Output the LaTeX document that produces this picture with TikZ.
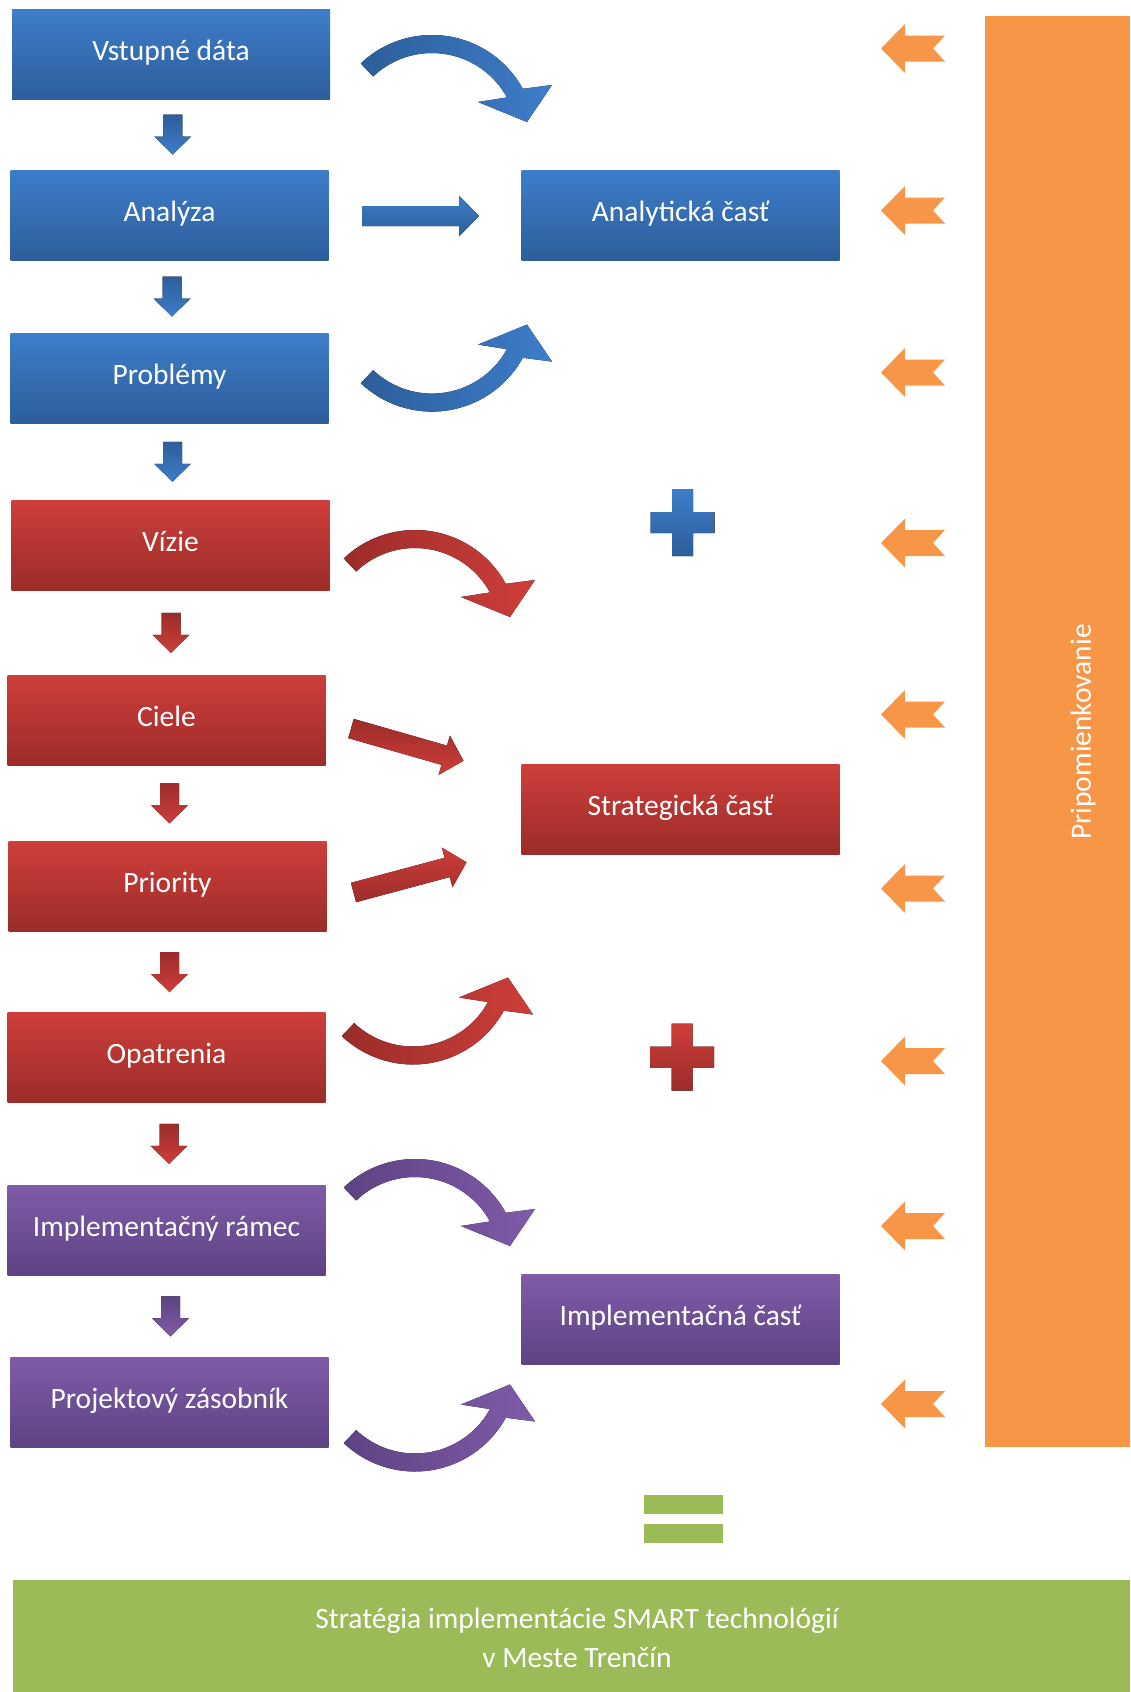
\documentclass[tikz,border=0pt]{standalone}
\usepackage{fontspec}
\setmainfont{Carlito}
\usetikzlibrary{calc}
\definecolor{blueTop}{RGB}{61,125,202}
\definecolor{blueBot}{RGB}{45,94,154}
\definecolor{redTop}{RGB}{206,62,58}
\definecolor{redBot}{RGB}{155,44,41}
\definecolor{violetTop}{RGB}{127,91,168}
\definecolor{violetBot}{RGB}{93,67,131}
\definecolor{pumpkin}{RGB}{247,150,70}
\definecolor{grass}{RGB}{155,187,89}

% small arrow between two boxes
\newcommand{\stepdown}[3]{%
  \fill[#3, shift={($(#1.south)!.5!(#2.north)+(2.5,0)$)}]
    (-9.5,-20) -- (9.5,-20) -- (9.5,2) -- (18.5,2) -- (0,20) -- (-18.5,2) -- (-9.5,2) -- cycle;}
% bent block arrow
\newcommand{\bendarrow}[1]{%
  \fill[#1] (-133.5:103.5) arc[start angle=-133.5, end angle=-28.7, radius=103.5]
    -- (120,-53.5) -- (95,-16.5) -- (46,-36.5) -- (-28.7:85.5)
    arc[start angle=-28.7, end angle=-133.5, radius=85.5] -- cycle;}
% straight block arrow
\newcommand{\pusharrow}[1]{%
  \fill[#1] (0,-10) -- (97,-10) -- (97,-20.5) -- (117,0) -- (97,20.5) -- (97,10) -- (0,10) -- cycle;}
% orange arrow from the side bar
\newcommand{\backarrow}[1]{%
  \fill[pumpkin, shift={(881,#1)}] (0,0) -- (24,-24.5) -- (24,-13) -- (64,-13) -- (52,0)
    -- (64,13) -- (24,13) -- (24,24.5) -- cycle;}
% plus sign
\newcommand{\plussign}[1]{%
  \fill[#1] (-10.5,-33.5) -- (10.5,-33.5) -- (10.5,-10.5) -- (32,-10.5) -- (32,10.5)
    -- (10.5,10.5) -- (10.5,33.5) -- (-10.5,33.5) -- (-10.5,10.5) -- (-32,10.5)
    -- (-32,-10.5) -- (-10.5,-10.5) -- cycle;}

\tikzset{
  box/.style={rectangle, minimum width=318pt, minimum height=90pt, inner sep=0pt,
    text height=20pt, text depth=8pt, text=white, font=\fontsize{29.5}{35}\selectfont},
  bluebox/.style={box, top color=blueTop, bottom color=blueBot},
  redbox/.style={box, top color=redTop, bottom color=redBot},
  violetbox/.style={box, top color=violetTop, bottom color=violetBot},
  bartext/.style={text=white, align=center, font=\fontsize{29.5}{39}\selectfont},
}

\begin{document}
\begin{tikzpicture}[x=1pt,y=-1pt]
	\useasboundingbox (0,0) rectangle (1130,1692);
	
	% draw steps
	\node[bluebox] (vstup) at (171,54) {Vstupné dáta};
	\node[bluebox] (analyza) at (169.5,215) {Analýza};
	\node[bluebox] (problemy) at (169.5,378) {Problémy};
	\node[redbox] (vizie) at (170.5,545.5) {Vízie};
	\node[redbox] (ciele) at (166.5,720) {Ciele};
	\node[redbox] (priority) at (167.5,886.5) {Priority};
	\node[redbox] (opatrenia) at (166.5,1057.5) {Opatrenia};
	\node[violetbox] (ramec) at (166.5,1230) {Implementačný rámec};
	\node[violetbox] (zasobnik) at (169.5,1402.5) {Projektový zásobník};
	
	% draw parts
	\node[bluebox] (analyticka) at (680.5,215) {Analytická časť};
	\node[redbox] (strategicka) at (680.5,809.5) {Strategická časť};
	\node[violetbox] (implementacna) at (680.5,1319) {Implementačná časť};
	
	% draw arrows between steps
	\stepdown{vstup}{analyza}{top color=blueBot, bottom color=blueTop}
	\stepdown{analyza}{problemy}{top color=blueBot, bottom color=blueTop}
	\stepdown{problemy}{vizie}{top color=blueBot, bottom color=blueTop}
	\stepdown{vizie}{ciele}{top color=redBot, bottom color=redTop}
	\stepdown{ciele}{priority}{top color=redBot, bottom color=redTop}
	\stepdown{priority}{opatrenia}{top color=redBot, bottom color=redTop}
	\stepdown{opatrenia}{ramec}{top color=redBot, bottom color=redTop}
	\stepdown{ramec}{zasobnik}{top color=violetBot, bottom color=violetTop}
	
	% draw arrows to parts
	\bendarrow{shift={(432,138.5)}, left color=blueBot, right color=blueTop}
	\pusharrow{shift={(362,216)}, top color=blueTop, bottom color=blueBot}
	\bendarrow{shift={(432,308.1)}, yscale=-1, left color=blueBot, right color=blueTop}
	\bendarrow{shift={(415,633.5)}, left color=redBot, right color=redTop}
	\pusharrow{shift={(351,728.5)}, rotate=-16, top color=redBot, bottom color=redTop}
	\pusharrow{shift={(353.5,892.5)}, rotate=15, top color=redTop, bottom color=redBot}
	\bendarrow{shift={(413,961)}, yscale=-1, left color=redBot, right color=redTop}
	\bendarrow{shift={(415,1262.5)}, left color=violetBot, right color=violetTop}
	\bendarrow{shift={(415,1368)}, yscale=-1, left color=violetBot, right color=violetTop}
	
	% draw plus and equals
	\plussign{shift={(682.5,522.5)}, top color=blueTop, bottom color=blueBot}
	\plussign{shift={(682,1057)}, top color=redTop, bottom color=redBot}
	\fill[grass] (644,1495) rectangle (723,1514);
	\fill[grass] (644,1524) rectangle (723,1543);
	
	% draw side bar
	\fill[pumpkin] (985,16) rectangle (1130,1447);
	\node[bartext, rotate=90] (pripomienky) at (1083,732) {Pripomienkovanie};
	\backarrow{48.5}
	\backarrow{210.5}
	\backarrow{372.5}
	\backarrow{543}
	\backarrow{714.5}
	\backarrow{888.5}
	\backarrow{1061}
	\backarrow{1226}
	\backarrow{1404}
	
	% draw result
	\fill[grass] (13,1580) rectangle (1130,1692);
	\node[bartext] (strategia) at (577,1638) {Stratégia implementácie SMART technológií\\v Meste Trenčín};
	
\end{tikzpicture}
\end{document}
